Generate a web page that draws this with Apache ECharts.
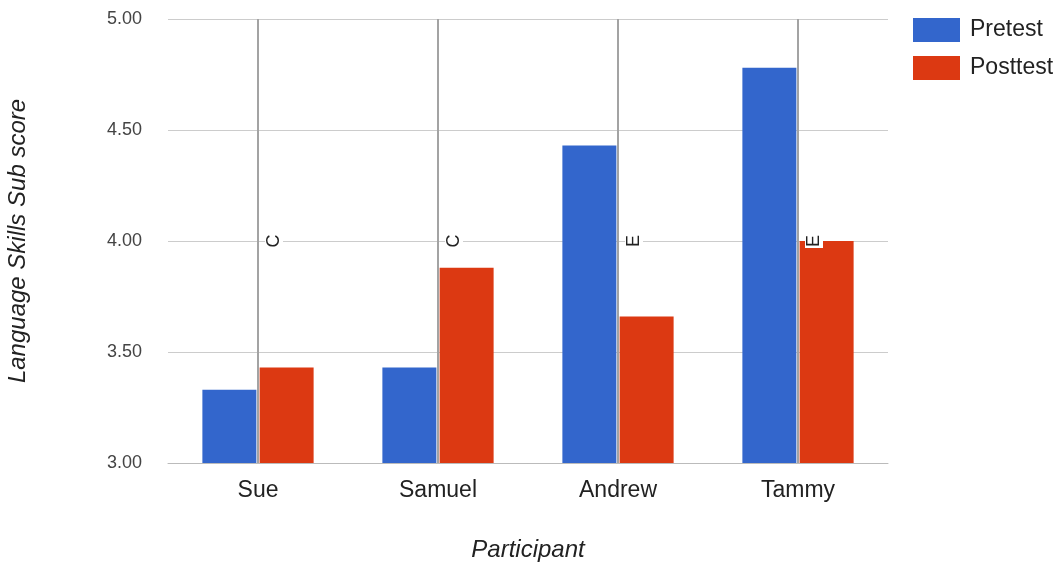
<!DOCTYPE html>
<html>
<head>
<meta charset="utf-8">
<script src="https://cdn.jsdelivr.net/npm/echarts@6/dist/echarts.min.js"></script>
<style>
  html, body { margin: 0; padding: 0; background: #fff; }
  #chart { width: 1060px; height: 564px; }
</style>
</head>
<body>
<div id="chart"></div>
<script>
// Language skills sub scores per participant
const participants = ['Sue', 'Samuel', 'Andrew', 'Tammy'];
const pretest = [3.33, 3.43, 4.43, 4.78];
const posttest = [3.43, 3.88, 3.66, 4.00];
const notes = ['C', 'C', 'E', 'E'];
const yTicks = { min: 3, max: 5, step: 0.5 };

const FONT = '"Liberation Sans", Arial, sans-serif';
const chart = echarts.init(document.getElementById('chart'), null, { renderer: 'canvas' });

// one vertical annotation line per participant, spanning the value range
const noteLines = participants.map((p, i) => [
  { coord: [p, yTicks.min], label: { formatter: notes[i] } },
  { coord: [p, yTicks.max] }
]);

chart.setOption({
  animation: false,
  textStyle: { fontFamily: FONT },
  grid: { left: 168, right: 172, top: 19, bottom: 101, containLabel: false, outerBoundsMode: 'none' },
  legend: {
    orient: 'vertical',
    left: 908,
    top: 13,
    itemWidth: 47,
    itemHeight: 24,
    itemGap: 14,
    icon: 'rect',
    data: ['Pretest', 'Posttest'],
    textStyle: { fontSize: 23, color: '#222', fontFamily: FONT, padding: [0, 0, 0, 5] }
  },
  xAxis: {
    type: 'category',
    data: participants,
    name: 'Participant',
    nameLocation: 'middle',
    nameGap: 75,
    nameTextStyle: { fontSize: 24, fontStyle: 'italic', color: '#222', fontFamily: FONT },
    axisLine: { lineStyle: { color: '#bbb' } },
    axisTick: { show: false },
    axisLabel: { fontSize: 23, color: '#222', margin: 16, fontFamily: FONT }
  },
  yAxis: {
    type: 'value',
    min: yTicks.min,
    max: yTicks.max,
    interval: yTicks.step,
    name: 'Language Skills Sub score',
    nameLocation: 'middle',
    nameGap: 138,
    nameTextStyle: { fontSize: 24, fontStyle: 'italic', color: '#222', fontFamily: FONT },
    axisLine: { show: false },
    axisTick: { show: false },
    axisLabel: { fontSize: 18, color: '#444', margin: 26, fontFamily: FONT,
                 formatter: v => v.toFixed(2) },
    splitLine: { lineStyle: { color: '#ccc', width: 1 } }
  },
  series: [
    {
      name: 'Pretest',
      type: 'bar',
      data: pretest,
      barWidth: 54,
      barGap: '6%',
      itemStyle: { color: '#3366cc' }
    },
    {
      name: 'Posttest',
      type: 'bar',
      data: posttest,
      barWidth: 54,
      barGap: '6%',
      itemStyle: { color: '#dc3912' }
    },
    {
      // annotation layer: vertical lines at category centres
      name: 'notes',
      type: 'line',
      data: [],
      z: 5,
      silent: true,
      markLine: {
        silent: true,
        symbol: ['none', 'none'],
        lineStyle: { color: '#a3a3a3', width: 2, type: 'solid' },
        label: {
          show: true,
          position: 'insideMiddleBottom',
          distance: 7,
          color: '#222',
          fontSize: 18,
          fontFamily: FONT,
          backgroundColor: '#fff',
          padding: [0, 1]
        },
        emphasis: { disabled: true },
        data: noteLines
      }
    }
  ]
});
</script>
</body>
</html>
